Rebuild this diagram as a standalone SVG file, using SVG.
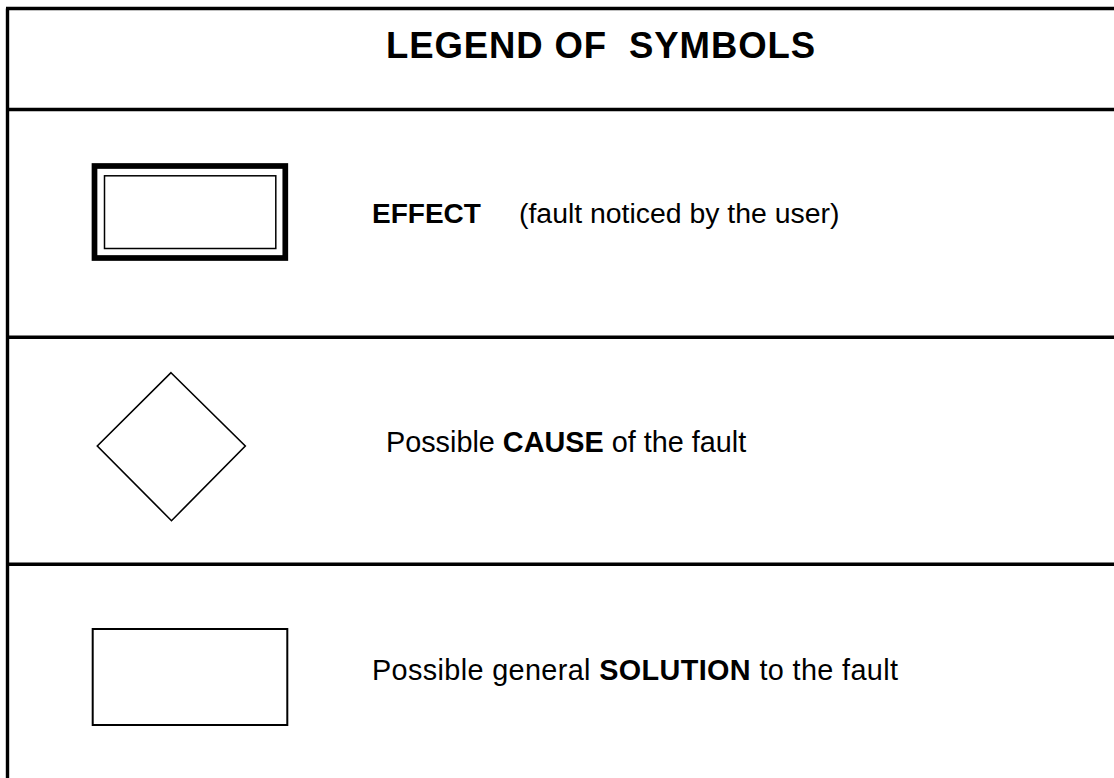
<svg xmlns="http://www.w3.org/2000/svg" width="1114" height="778" viewBox="0 0 1114 778">
<style>
.frame{stroke:#000;stroke-width:3.4;fill:none}
.sym{fill:#fff;stroke:#000}
text{font-family:"Liberation Sans",Arial,sans-serif;fill:#000}
.b{font-weight:bold}
</style>
<rect width="1114" height="778" fill="#fff"/>
<g id="frame">
<line class="frame" x1="6" y1="8.5" x2="1114" y2="8.5"/>
<line class="frame" x1="7.5" y1="8.5" x2="7.5" y2="778"/>
<line class="frame" x1="6" y1="109.5" x2="1114" y2="109.5"/>
<line class="frame" x1="6" y1="337.3" x2="1114" y2="337.3"/>
<line class="frame" x1="6" y1="564.3" x2="1114" y2="564.3"/>
</g>
<g id="title">
<text x="386" y="58" font-size="36.5" class="b" textLength="429" lengthAdjust="spacing" xml:space="preserve">LEGEND OF  SYMBOLS</text>
</g>
<g id="effect">
<rect class="sym" x="94.5" y="166" width="190.8" height="92" stroke-width="5.7"/>
<rect class="sym" x="104.5" y="175.8" width="171.3" height="72.7" stroke-width="1.5"/>
<text x="372" y="222.5" font-size="28"><tspan class="b">EFFECT</tspan><tspan x="519" font-size="28.4">(fault noticed by the user)</tspan></text>
</g>
<g id="cause">
<polygon class="sym" points="171,372.7 245.3,446 171.5,520.7 97.3,446" stroke-width="1.6"/>
<text x="386" y="451.5" font-size="28.8">Possible <tspan class="b">CAUSE</tspan> of the fault</text>
</g>
<g id="solution">
<rect class="sym" x="92.7" y="629" width="194.6" height="96" stroke-width="2"/>
<text x="372" y="680" font-size="28.8" textLength="526" lengthAdjust="spacing">Possible general <tspan class="b">SOLUTION</tspan> to the fault</text>
</g>
</svg>
